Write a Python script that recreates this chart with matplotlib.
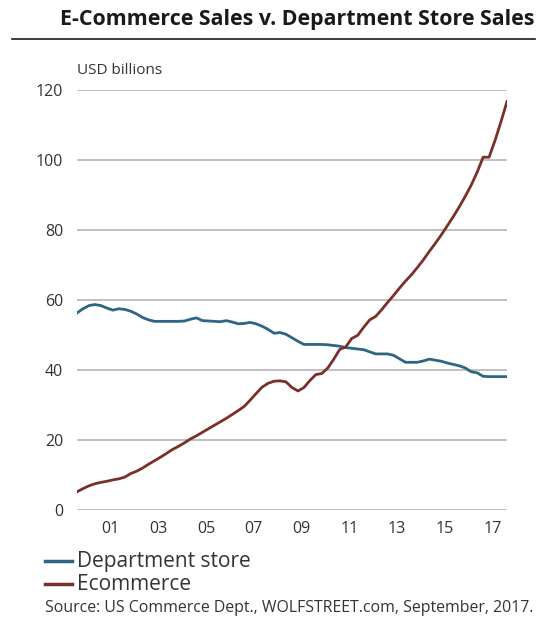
import numpy as np
import matplotlib
matplotlib.use("Agg")
import matplotlib.pyplot as plt
from matplotlib.lines import Line2D

plt.rcParams['font.family'] = ['Open Sans', 'DejaVu Sans']

# Quarterly data, starting Q3 1999 (positioned on a decimal-year axis)
start_year = 1999.6
n_quarters = 73
years = start_year + 0.25 * np.arange(n_quarters)

dept_store = [56.3, 57.5, 58.4, 58.7, 58.4, 57.7, 57.1, 57.5, 57.3, 56.8,
              56.0, 55.0, 54.3, 53.9, 53.9, 53.9, 53.9, 53.9, 54.0, 54.5,
              54.9, 54.1, 54.0, 53.9, 53.8, 54.1, 53.7, 53.2, 53.3, 53.6,
              53.2, 52.5, 51.6, 50.5, 50.7, 50.2, 49.2, 48.2, 47.3, 47.3,
              47.3, 47.3, 47.2, 47.0, 46.8, 46.4, 46.2, 46.0, 45.8, 45.2,
              44.6, 44.6, 44.6, 44.2, 43.2, 42.2, 42.2, 42.2, 42.6, 43.1,
              42.8, 42.5, 42.0, 41.6, 41.2, 40.6, 39.5, 39.2, 38.2, 38.1,
              38.1, 38.1, 38.1]

ecommerce = [5.2, 6.1, 6.9, 7.5, 7.9, 8.2, 8.6, 8.9, 9.4, 10.4,
             11.1, 12.0, 13.1, 14.1, 15.1, 16.2, 17.3, 18.2, 19.2, 20.3,
             21.2, 22.2, 23.2, 24.2, 25.2, 26.2, 27.3, 28.4, 29.6, 31.4,
             33.3, 35.1, 36.2, 36.8, 36.9, 36.6, 35.0, 34.0, 35.0, 37.0,
             38.7, 39.0, 40.6, 43.1, 45.9, 46.6, 49.0, 49.9, 52.2, 54.3,
             55.3, 57.2, 59.3, 61.3, 63.4, 65.4, 67.2, 69.3, 71.5, 73.9,
             76.2, 78.6, 81.2, 83.8, 86.6, 89.6, 92.8, 96.5, 100.8, 100.8,
             105.6, 111.0, 116.7]

tick_years = [2001, 2003, 2005, 2007, 2009, 2011, 2013, 2015, 2017]
tick_labels = ['01', '03', '05', '07', '09', '11', '13', '15', '17']
y_ticks = [0, 20, 40, 60, 80, 100, 120]

series_names = ['Department store', 'Ecommerce']
colors = ['#2e6585', '#7a2f2b']

fig = plt.figure(figsize=(5.42, 6.19), dpi=100)
ax = fig.add_axes([77/542, 1 - 510/619, 430/542, 420/619])

ax.plot(years, dept_store, color=colors[0], lw=2.0, solid_joinstyle='round')
ax.plot(years, ecommerce, color=colors[1], lw=2.0, solid_joinstyle='round')

ax.set_xlim(years[0], years[-1])
ax.set_ylim(0, 120)
ax.set_yticks(y_ticks)
ax.set_yticklabels([str(v) for v in y_ticks])
ax.set_xticks(tick_years)
ax.set_xticklabels(tick_labels)
ax.grid(axis='y', color='#b5b5b5', lw=1.2)
ax.set_axisbelow(True)
for s in ax.spines.values():
    s.set_visible(False)
ax.tick_params(axis='both', length=0, labelsize=11.5, labelcolor='#333333')
ax.tick_params(axis='y', pad=10)
ax.tick_params(axis='x', pad=8)

# Title and rule
fig.text(535/542, 1 - 19/619, 'E-Commerce Sales v. Department Store Sales',
         ha='right', va='center', fontsize=15.4, fontweight='bold', color='#1a1a1a')
fig.add_artist(Line2D([12/542, 535/542], [1 - 39/619, 1 - 39/619],
                      color='#1a1a1a', lw=1.2, transform=fig.transFigure))

fig.text(77/542, 1 - 70/619, 'USD billions', ha='left', va='center',
         fontsize=11, color='#333333')

# Legend
for i, (name, c) in enumerate(zip(series_names, colors)):
    yy = 1 - (561 + 23 * i) / 619
    fig.add_artist(Line2D([45/542, 72/542], [yy, yy], color=c, lw=2.5,
                          transform=fig.transFigure))
    fig.text(77/542, yy, name, ha='left', va='center', fontsize=15,
             color='#333333')

fig.text(45/542, 1 - 608/619,
         'Source: US Commerce Dept., WOLFSTREET.com, September, 2017.',
         ha='left', va='center', fontsize=11.4, color='#333333')

fig.savefig('out.png', dpi=100)
